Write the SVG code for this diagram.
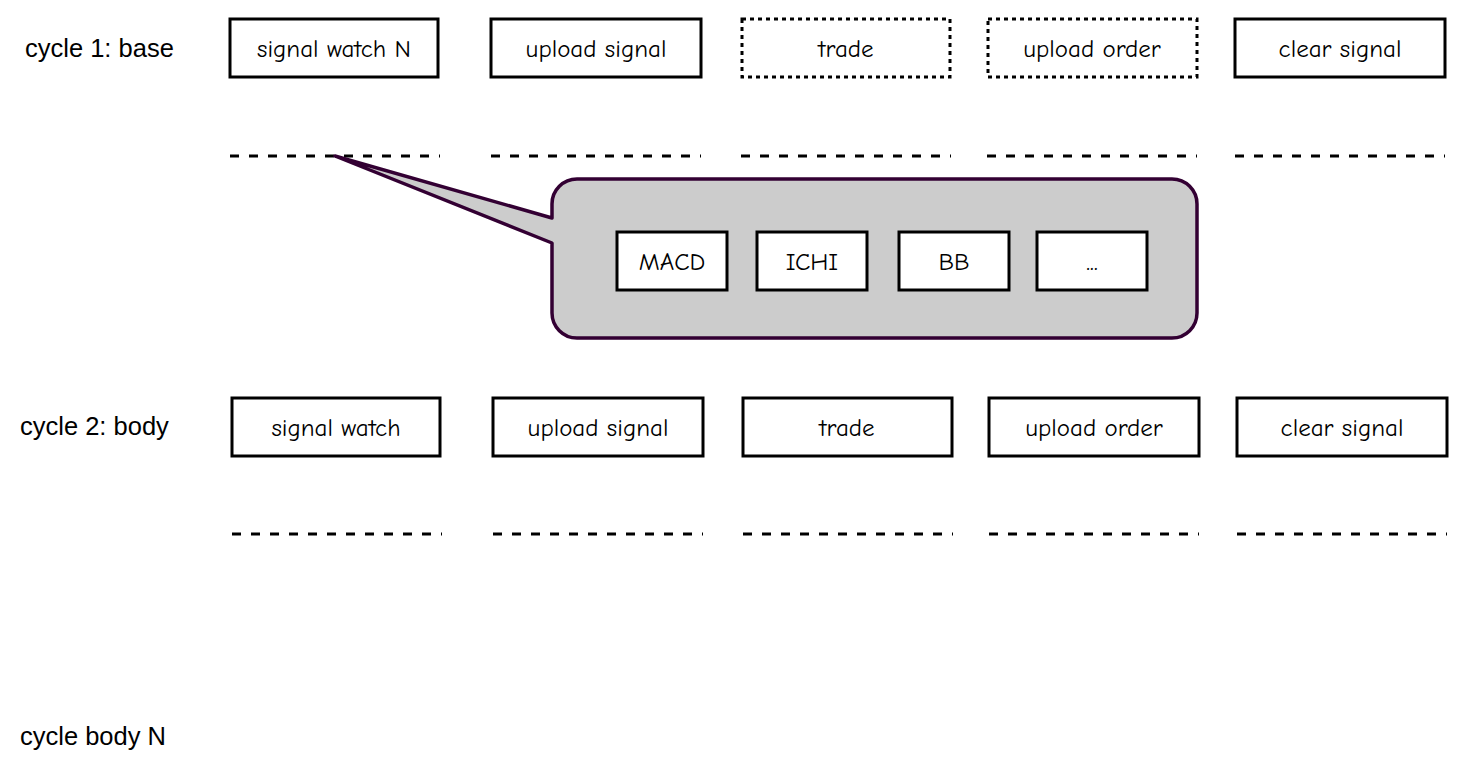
<svg xmlns="http://www.w3.org/2000/svg" width="1466" height="774" viewBox="0 0 1466 774">
<style>
.lbl{font-family:"Liberation Sans",Arial,sans-serif;font-size:25.5px;fill:#000}
.box{fill:#fff;stroke:#000;stroke-width:3}
.dot{fill:#fff;stroke:#000;stroke-width:3;stroke-dasharray:4 4}
.t{font-family:"Comic Neue","Open Sans","Noto Sans",sans-serif;font-size:25px;fill:#000;text-anchor:middle;dominant-baseline:central}
.dash{stroke:#000;stroke-width:3;stroke-dasharray:9 10;fill:none}
.callout{fill:#cccccc;stroke:#330033;stroke-width:3.5;stroke-linejoin:round}
</style>
<rect width="1466" height="774" fill="#fff"/>
<text class="lbl" x="25" y="57">cycle 1: base</text>
<text class="lbl" x="20" y="435">cycle 2: body</text>
<text class="lbl" x="20" y="745">cycle body N</text>

<g id="row1">
<g id="r1-signal-watch-n"><rect class="box" x="230" y="19" width="208" height="58"/><text class="t" x="334" y="48.5">signal watch N</text></g>
<g id="r1-upload-signal"><rect class="box" x="491" y="19" width="210" height="58"/><text class="t" x="596" y="48.5">upload signal</text></g>
<g id="r1-trade"><rect class="dot" x="742" y="19" width="208" height="58"/><text class="t" x="846" y="48.5">trade</text></g>
<g id="r1-upload-order"><rect class="dot" x="988" y="19" width="209" height="58"/><text class="t" x="1092" y="48.5">upload order</text></g>
<g id="r1-clear-signal"><rect class="box" x="1235" y="19" width="210" height="58"/><text class="t" x="1340" y="48.5">clear signal</text></g>
</g>

<g id="connectors">
<line class="dash" x1="230" y1="156" x2="440" y2="156"/>
<line class="dash" x1="491" y1="156" x2="701" y2="156"/>
<line class="dash" x1="741" y1="156" x2="951" y2="156"/>
<line class="dash" x1="987" y1="156" x2="1197" y2="156"/>
<line class="dash" x1="1235" y1="156" x2="1445" y2="156"/>
<line class="dash" x1="232" y1="534" x2="442" y2="534"/>
<line class="dash" x1="493" y1="534" x2="703" y2="534"/>
<line class="dash" x1="743" y1="534" x2="953" y2="534"/>
<line class="dash" x1="989" y1="534" x2="1199" y2="534"/>
<line class="dash" x1="1237" y1="534" x2="1447" y2="534"/>
</g>

<g id="callout">
<path class="callout" d="M577 179 H1172 A25 25 0 0 1 1197 204 V313 A25 25 0 0 1 1172 338 H577 A25 25 0 0 1 552 313 V243 L335 156 L552 218 V204 A25 25 0 0 1 577 179 Z"/>
<g id="macd"><rect class="box" x="617" y="232" width="110" height="58"/><text class="t" x="672" y="261.5">MACD</text></g>
<g id="ichi"><rect class="box" x="757" y="232" width="110" height="58"/><text class="t" x="812" y="261.5">ICHI</text></g>
<g id="bb"><rect class="box" x="899" y="232" width="110" height="58"/><text class="t" x="954" y="261.5">BB</text></g>
<g id="more"><rect class="box" x="1037" y="232" width="110" height="58"/><text class="t" x="1092" y="261.5">...</text></g>
</g>

<g id="row2">
<g id="r2-signal-watch"><rect class="box" x="232" y="398" width="208" height="58"/><text class="t" x="336" y="427.5">signal watch</text></g>
<g id="r2-upload-signal"><rect class="box" x="493" y="398" width="210" height="58"/><text class="t" x="598" y="427.5">upload signal</text></g>
<g id="r2-trade"><rect class="box" x="743" y="398" width="209" height="58"/><text class="t" x="847" y="427.5">trade</text></g>
<g id="r2-upload-order"><rect class="box" x="989" y="398" width="210" height="58"/><text class="t" x="1094" y="427.5">upload order</text></g>
<g id="r2-clear-signal"><rect class="box" x="1237" y="398" width="210" height="58"/><text class="t" x="1342" y="427.5">clear signal</text></g>
</g>
</svg>
